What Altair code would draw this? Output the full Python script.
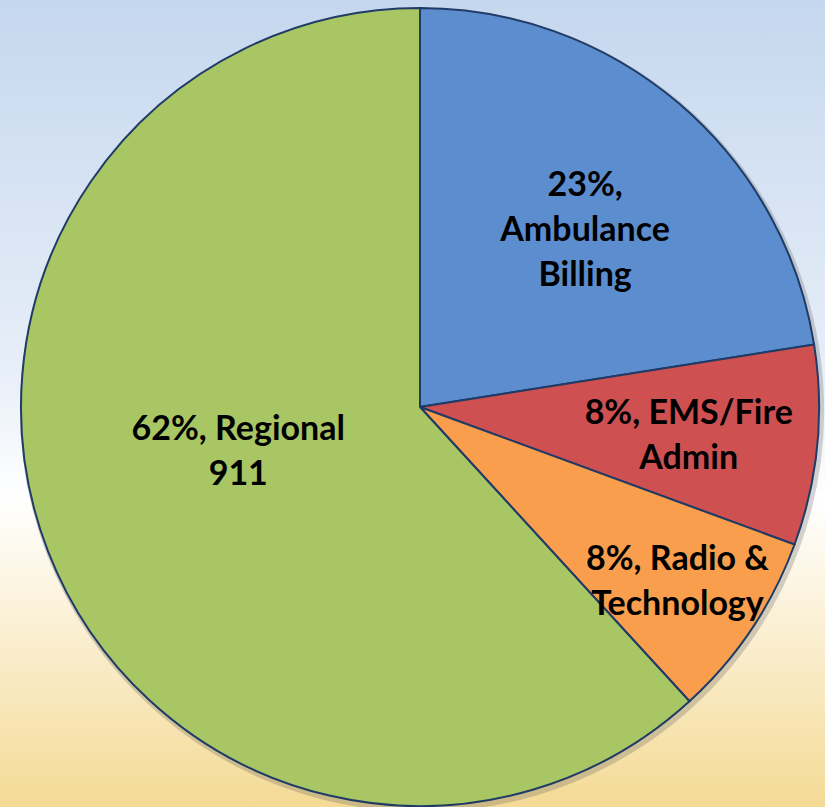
import altair as alt
import pandas as pd

categories = ["Ambulance Billing", "EMS/Fire Admin", "Radio & Technology", "Regional 911"]
values = [22.5, 8.1, 7.6, 61.8]
labels = ["23%,\nAmbulance\nBilling", "8%, EMS/Fire\nAdmin", "8%, Radio &\nTechnology", "62%, Regional\n911"]
order = [1, 2, 3, 4]
colors = ["#5c8dcf", "#cf5050", "#f89e4c", "#a8c663"]

df = pd.DataFrame({"cat": categories, "value": values, "label": labels, "order": order})

W, H = 825, 807
CX, CY, R = 420, 407, 399

bg = alt.Chart(pd.DataFrame({"a": [0]})).mark_rect(
    fill=alt.Gradient(
        gradient="linear", x1=0, x2=0, y1=0, y2=1,
        stops=[
            alt.GradientStop(color="#c5d7ee", offset=0),
            alt.GradientStop(color="#e6eef8", offset=0.45),
            alt.GradientStop(color="#ffffff", offset=0.62),
            alt.GradientStop(color="#f4da95", offset=1),
        ],
    )
).encode(x=alt.value(0), x2=alt.value(W), y=alt.value(0), y2=alt.value(H))

base = alt.Chart(df)

shadow = base.mark_arc(radius=R + 3, color="#555555", opacity=0.25, stroke=None).encode(
    theta=alt.Theta("value:Q", stack=True),
    order=alt.Order("order:Q"),
    x=alt.value(CX + 2), y=alt.value(CY + 3),
)

pie = base.mark_arc(radius=R, stroke="#1f3b66", strokeWidth=2).encode(
    theta=alt.Theta("value:Q", stack=True),
    order=alt.Order("order:Q"),
    color=alt.Color("cat:N", scale=alt.Scale(domain=categories, range=colors), legend=None),
    x=alt.value(CX), y=alt.value(CY),
)

lab_base = base.transform_joinaggregate(total="sum(value)").transform_window(
    cum="sum(value)", sort=[alt.SortField("order")]
).transform_calculate(mid="(datum.cum - datum.value/2)/datum.total")

def lab(cat, r, dx=0, dy=0):
    return lab_base.transform_filter(alt.datum.cat == cat).mark_text(
        font="Lato", fontWeight="bold", fontSize=34, lineBreak="\n", lineHeight=45,
        align="center", baseline="middle", color="#000000", radius=r, dx=dx, dy=dy,
    ).encode(
        theta=alt.Theta("mid:Q", scale=alt.Scale(domain=[0, 1])),
        text="label:N",
        x=alt.value(CX), y=alt.value(CY),
    )

texts = [
    lab("Ambulance Billing", 245, 6, -35),
    lab("EMS/Fire Admin", 270, 0, -19),
    lab("Radio & Technology", 310, 0, -20),
    lab("Regional 911", 195, 0, -48),
]

chart = alt.layer(bg, shadow, pie, *texts).resolve_scale(theta="independent").properties(
    width=W, height=H, padding=0
).configure_view(stroke=None).configure(autosize="none")

chart.save("out.html", embed_options={"renderer": "svg", "actions": False})
